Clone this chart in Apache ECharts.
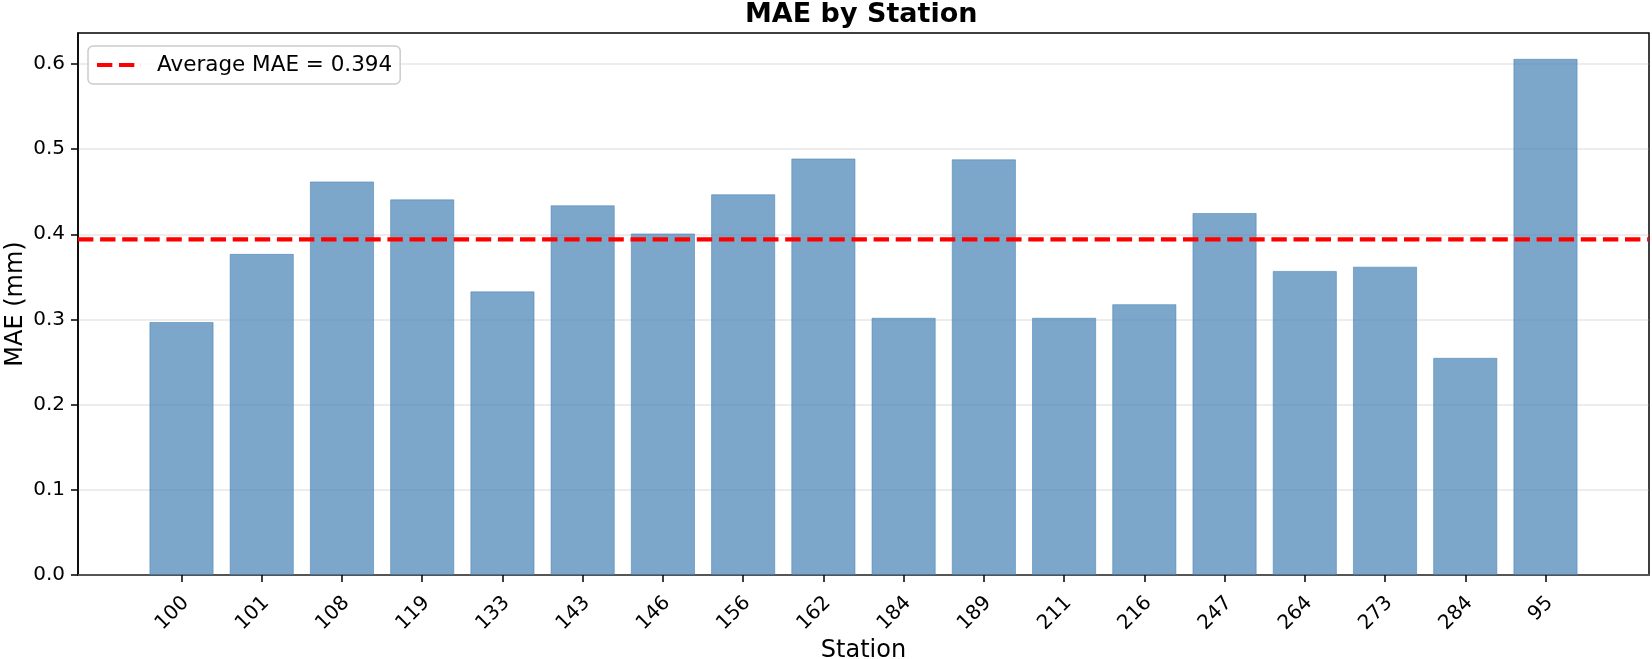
<!DOCTYPE html>
<html>
<head>
<meta charset="utf-8">
<script src="https://cdn.jsdelivr.net/npm/echarts@6/dist/echarts.min.js"></script>
<style>
html,body{margin:0;padding:0;background:#fff;}
#chart{width:1652px;height:659px;}
</style>
</head>
<body>
<div id="chart"></div>
<script>
const stations = ['100','101','108','119','133','143','146','156','162','184','189','211','216','247','264','273','284','95'];
const maeValues = [0.297,0.377,0.462,0.441,0.333,0.434,0.401,0.447,0.489,0.302,0.488,0.302,0.318,0.425,0.357,0.362,0.255,0.606];
const averageMAE = 0.394;
const yTickValues = [0, 0.1, 0.2, 0.3, 0.4, 0.5, 0.6];
const titleText = 'MAE by Station';
const xLabel = 'Station';
const yLabel = 'MAE (mm)';
const legendLabel = 'Average MAE = ' + averageMAE.toFixed(3);

const n = stations.length;
const barFrac = 0.8;
const pad = 0.05 * (n - 1 + barFrac);
const xMin = -barFrac / 2 - pad;
const xMax = n - 1 + barFrac / 2 + pad;
const yMax = Math.max(...maeValues) * 1.05;
const idx = stations.map((s, i) => i);

const chart = echarts.init(document.getElementById('chart'), null, {renderer: 'canvas'});
const font = 'DejaVu Sans';
const gridLeft = 78, gridRight = 3, gridTop = 33, gridBottom = 84;
const plotW = 1652 - gridLeft - gridRight;
const barWidthPx = plotW / (xMax - xMin) * barFrac;

chart.setOption({
  animation: false,
  backgroundColor: '#fff',
  title: {
    text: titleText,
    left: 745, top: 1, padding: 0,
    textStyle: {fontFamily: font, fontSize: 27, fontWeight: 'bold', color: '#000'}
  },
  legend: {
    left: 88, top: 46,
    data: [{name: legendLabel, icon: 'path://M0,0h15.4v4h-15.4z M22.1,0h15.4v4h-15.4z M44.2,0h-0.1v4h0.1z'}],
    itemWidth: 44, itemHeight: 4,
    padding: [8, 8, 8, 9],
    backgroundColor: 'rgba(255,255,255,0.8)',
    borderColor: '#cccccc', borderWidth: 1.5, borderRadius: 5,
    textStyle: {fontFamily: font, fontSize: 21.5, color: '#000', padding: [0, 0, 0, 11]}
  },
  grid: {
    left: gridLeft, right: gridRight, top: gridTop, bottom: gridBottom,
    outerBoundsMode: 'none', containLabel: false,
    show: true, borderColor: '#000', borderWidth: 1.5, backgroundColor: 'transparent'
  },
  xAxis: {
    type: 'value', min: xMin, max: xMax,
    name: xLabel, nameLocation: 'middle', nameGap: 64, nameMoveOverlap: false,
    nameTextStyle: {fontFamily: font, fontSize: 24, color: '#000'},
    axisLine: {show: true, onZero: false, lineStyle: {color: '#555', width: 2}},
    axisTick: {show: true, customValues: idx, length: 7, lineStyle: {color: '#000', width: 1.5}},
    axisLabel: {
      customValues: idx, rotate: 45, margin: 15,
      verticalAlign: 'top',
      fontFamily: font, fontSize: 20, color: '#000',
      padding: [0, 4, 0, 0],
      formatter: v => stations[Math.round(v)]
    },
    splitLine: {show: false}
  },
  yAxis: {
    type: 'value', min: 0, max: yMax, interval: 0.1,
    name: yLabel, nameLocation: 'middle', nameGap: 50, nameMoveOverlap: false,
    nameTextStyle: {fontFamily: font, fontSize: 24, color: '#000'},
    axisLine: {show: true, onZero: false, lineStyle: {color: '#000', width: 1.5}},
    axisTick: {show: true, customValues: yTickValues, length: 7, lineStyle: {color: '#000', width: 1.5}},
    axisLabel: {
      customValues: yTickValues, margin: 13,
      fontFamily: font, fontSize: 20, color: '#000',
      formatter: v => v.toFixed(1)
    },
    splitLine: {show: true, lineStyle: {color: 'rgba(176,176,176,0.3)', width: 1.6}}
  },
  series: [
    {
      type: 'bar',
      name: 'MAE',
      data: maeValues.map((v, i) => [i, v]),
      barWidth: barWidthPx,
      itemStyle: {color: 'rgba(70,130,180,0.7)', borderColor: 'rgba(70,130,180,0.55)', borderWidth: 1}
    },
    {
      type: 'line',
      name: legendLabel,
      data: [[xMin, averageMAE], [xMax, averageMAE]],
      symbol: 'none',
      z: 5,
      itemStyle: {color: '#ff0000'},
      lineStyle: {color: '#ff0000', width: 4.2, type: [15.4, 6.7]}
    }
  ]
});
</script>
</body>
</html>
